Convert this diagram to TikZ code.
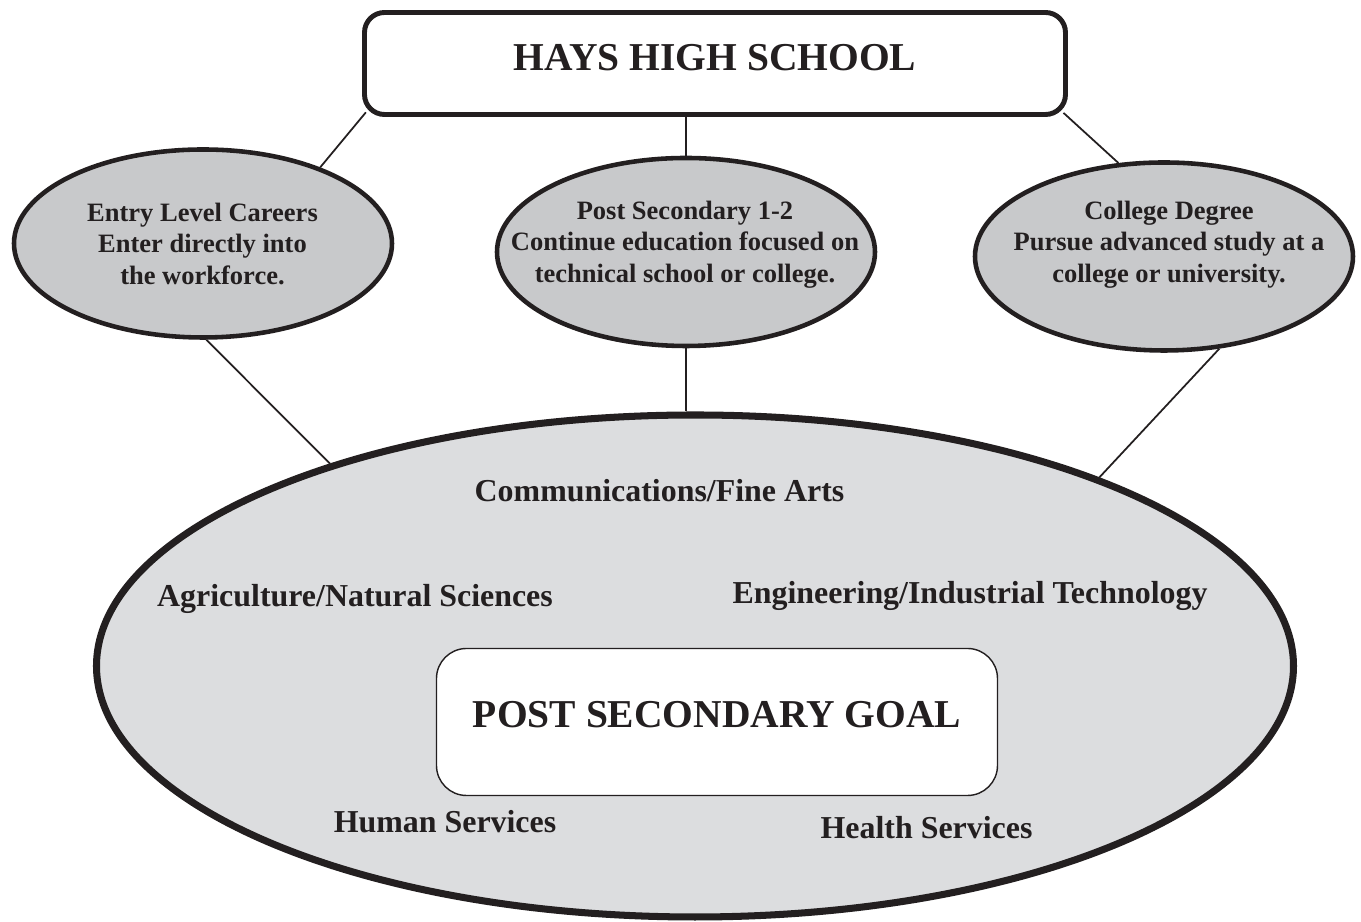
\documentclass[tikz,border=0pt]{standalone}
\usepackage{fontspec}
\setmainfont{Liberation Serif}
\usetikzlibrary{shapes.geometric}
\definecolor{ink}{HTML}{231F20}
\definecolor{ovalgray}{HTML}{C8C9CB}
\definecolor{fieldgray}{HTML}{DCDDDF}
\tikzset{
    oval/.style={ellipse, draw=ink, line width=1.3pt, fill=ovalgray, inner sep=0pt, minimum width=3.78cm, minimum height=1.88cm},
    ovaltext/.style={anchor=north, inner sep=0pt, align=center, text=ink, font=\fontsize{7.54}{8.96}\selectfont\bfseries},
    area/.style={anchor=base, inner sep=0pt, text=ink, font=\fontsize{9.08}{10.5}\selectfont\bfseries},
    titlebox/.style={draw=ink, fill=white, inner sep=0pt, text=ink, font=\fontsize{11.24}{13}\selectfont\bfseries},
    link/.style={draw=ink, line width=0.5pt}
}
\begin{document}
\begin{tikzpicture}
                \useasboundingbox (0,0) rectangle (13.61,-9.22);

                \node[titlebox, line width=1.4pt, rounded corners=0.2cm, minimum width=7.01cm, minimum height=1.02cm, text depth=0.13cm] (hhs) at (7.15,-0.635) {HAYS HIGH SCHOOL};

                \node[ellipse, draw=ink, line width=2pt, fill=fieldgray, inner sep=0pt, minimum width=11.97cm, minimum height=5.02cm] (goals) at (6.95,-6.66) {};
                \node[titlebox, line width=0.4pt, rounded corners=0.3cm, minimum width=5.61cm, minimum height=1.47cm, text depth=0.16cm] (goal) at (7.17,-7.22) {POST SECONDARY GOAL};

                \node[oval] (entry) at (2.03,-2.435) {};
                \node[oval] (tech) at (6.86,-2.52) {};
                \node[oval] (college) at (11.64,-2.565) {};
                \node[ovaltext] (entryt) at (2.025,-2.02) {Entry Level Careers\\Enter directly into\\the workforce.};
                \node[ovaltext] (techt) at (6.85,-2.00) {Post Secondary 1-2\\Continue education focused on\\technical school or college.};
                \node[ovaltext] (collt) at (11.69,-2.00) {College Degree\\Pursue advanced study at a\\college or university.};

                \node[area] (comm) at (6.595,-5.02) {Communications/Fine Arts};
                \node[area] (agri) at (3.55,-6.07) {Agriculture/Natural Sciences};
                \node[area] (eng) at (9.70,-6.04) {Engineering/Industrial Technology};
                \node[area] (human) at (4.45,-8.33) {Human Services};
                \node[area] (health) at (9.265,-8.39) {Health Services};

                \draw[link, shorten <=-0.06cm] (hhs.south west) to (entry.33); \draw[link] (hhs.south -| tech) to (tech.north); \draw[link, shorten <=-0.06cm] (hhs.south east) to (college.116);
                \draw[link] (entry.-88) to (goals.151); \draw[link] (tech.south) to (tech.south |- goals.north); \draw[link] (college.-59) to (goals.25);
            \end{tikzpicture}
\end{document}
